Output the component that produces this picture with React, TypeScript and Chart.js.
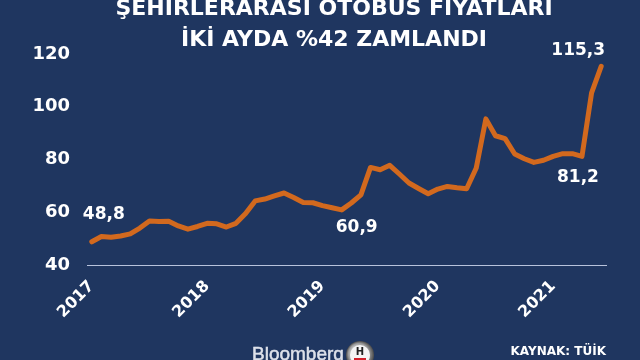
import React, { useEffect, useRef } from "react";
import { Chart, registerables } from "chart.js";

Chart.register(...registerables);

const years = ["2017", "2018", "2019", "2020", "2021"];
const monthsPerYear = 12;
const prices = [
  48.8, 50.8, 50.5, 51.0, 51.8, 54.0, 56.7, 56.5, 56.6, 54.8, 53.6, 54.6,
  55.8, 55.6, 54.4, 55.8, 59.5, 64.3, 65.0, 66.2, 67.3, 65.6, 63.7, 63.6,
  62.5, 61.7, 60.9, 63.5, 66.6, 77.0, 76.1, 77.8, 74.5, 71.1, 69.0, 67.0,
  68.8, 69.8, 69.3, 68.9, 76.8, 95.4, 89.0, 87.9, 82.1, 80.3, 78.9, 79.7,
  81.2, 82.2, 82.2, 81.2, 105.3, 115.3,
];
const categories = prices.map((_, i) => `${years[Math.floor(i / monthsPerYear)]}-${(i % monthsPerYear) + 1}`);
const titleLines = ["ŞEHİRLERARASI OTOBÜS FİYATLARI", "İKİ AYDA %42 ZAMLANDI"];
const annotatedIdx = [0, 26, 51, 53];
const annotatedOffsets = [
  [12, -27],
  [15, 18],
  [-4, 21],
  [-23, -16],
];
const sourceText = "KAYNAK: TÜİK";
const brandText = "Bloomberg";

const BG = "#1f3660";
const LINE = "#d2691e";
const FONT = "'DejaVu Sans', Verdana, sans-serif";

const decorPlugin = {
  id: "decor",
  beforeDraw(chart: any) {
    const { ctx, width, height } = chart;
    ctx.save();
    ctx.fillStyle = BG;
    ctx.fillRect(0, 0, width, height);
    ctx.restore();
  },
  afterDraw(chart: any) {
    const { ctx } = chart;
    ctx.save();
    // title
    ctx.fillStyle = "#ffffff";
    ctx.textAlign = "center";
    ctx.textBaseline = "middle";
    ctx.font = `bold 22px ${FONT}`;
    ctx.fillText(titleLines[0], 334, 9);
    ctx.fillText(titleLines[1], 334, 40);
    // data labels
    const meta = chart.getDatasetMeta(0);
    ctx.font = `bold 17px ${FONT}`;
    annotatedIdx.forEach((idx, k) => {
      const pt = meta.data[idx];
      const txt = prices[idx].toFixed(1).replace(".", ",");
      ctx.fillText(txt, pt.x + annotatedOffsets[k][0], pt.y + annotatedOffsets[k][1]);
    });
    // source
    ctx.font = `bold 12px ${FONT}`;
    ctx.textAlign = "right";
    ctx.fillText(sourceText, 606, 352);
    // brand
    ctx.font = `19px 'Liberation Sans', Arial, sans-serif`;
    ctx.textAlign = "left";
    ctx.textBaseline = "alphabetic";
    ctx.fillStyle = "#dde1ea";
    ctx.strokeStyle = "#dde1ea";
    ctx.lineWidth = 0.5;
    ctx.fillText(brandText, 252, 360);
    ctx.strokeText(brandText, 252, 360);
    // emblem
    const cx = 360, cy = 355, r = 14;
    const g = ctx.createRadialGradient(cx - 4, cy - 4, 2, cx, cy, r);
    g.addColorStop(0, "#f2f2f2");
    g.addColorStop(0.7, "#9a9a9a");
    g.addColorStop(1, "#4a4a4a");
    ctx.beginPath();
    ctx.arc(cx, cy, r, 0, Math.PI * 2);
    ctx.fillStyle = g;
    ctx.fill();
    ctx.beginPath();
    ctx.arc(cx, cy, r - 4, 0, Math.PI * 2);
    ctx.fillStyle = "#f4f4f4";
    ctx.fill();
    ctx.fillStyle = "#222";
    ctx.font = `bold 10px ${FONT}`;
    ctx.textAlign = "center";
    ctx.textBaseline = "middle";
    ctx.fillText("H", cx, cy - 3);
    ctx.fillStyle = "#d0202a";
    ctx.fillRect(cx - 6, cy + 3, 12, 2);
    ctx.restore();
  },
};

export default function App() {
  const ref = useRef<HTMLCanvasElement | null>(null);
  useEffect(() => {
    if (!ref.current) return;
    const chart = new Chart(ref.current, {
      type: "line",
      data: {
        labels: categories,
        datasets: [
          {
            data: prices,
            borderColor: LINE,
            borderWidth: 5,
            pointRadius: 0,
            tension: 0,
            borderJoinStyle: "round",
            borderCapStyle: "round",
            fill: false,
          },
        ],
      },
      options: {
        animation: false,
        responsive: false,
        maintainAspectRatio: false,
        layout: { padding: { top: 54, right: 34, left: 0, bottom: 0 } },
        plugins: { legend: { display: false }, tooltip: { enabled: false }, title: { display: false } },
        scales: {
          x: {
            type: "category",
            offset: true,
            grid: { display: false, drawTicks: false },
            border: { display: true, color: "#b8c3dc", width: 1 },
            afterFit: (axis: any) => {
              axis.height = 95;
            },
            ticks: {
              autoSkip: false,
              maxRotation: 45,
              minRotation: 45,
              padding: 12,
              color: "#ffffff",
              font: { family: FONT, size: 16, weight: "bold" },
              callback: (_v: any, i: number) => (i % monthsPerYear === 0 ? years[i / monthsPerYear] : ""),
            },
          },
          y: {
            min: 40,
            max: 120,
            grid: { display: false, drawTicks: false },
            border: { display: false },
            afterFit: (axis: any) => {
              axis.width = 87;
            },
            ticks: {
              stepSize: 20,
              padding: 17,
              color: "#ffffff",
              font: { family: FONT, size: 18, weight: "bold" },
            },
          },
        },
      },
      plugins: [decorPlugin],
    });
    return () => chart.destroy();
  }, []);
  return (
    <div style={{ position: "absolute", left: 0, top: 0, width: 640, height: 360 }}>
      <canvas ref={ref} width={640} height={360} style={{ display: "block", width: 640, height: 360 }} />
    </div>
  );
}
